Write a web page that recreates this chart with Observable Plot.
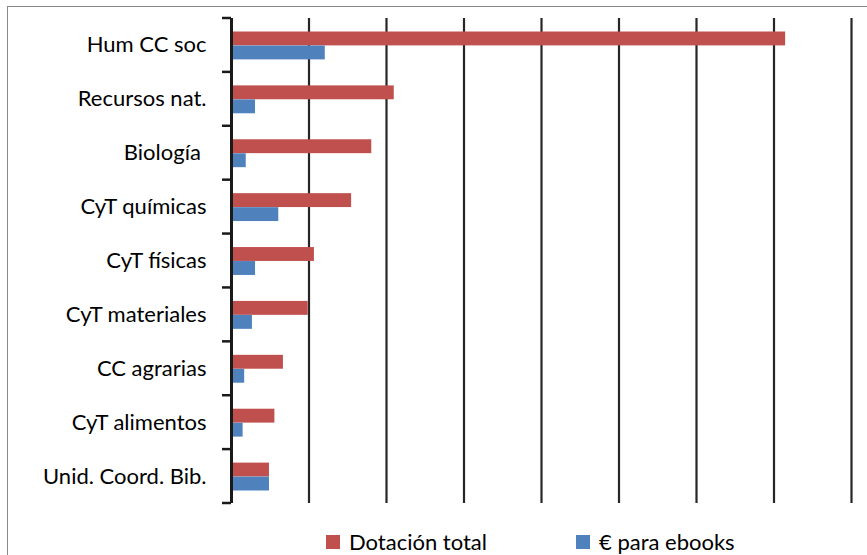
<!DOCTYPE html>
<html><head><meta charset="utf-8">
<script src="https://cdn.jsdelivr.net/npm/d3@7"></script>
<script src="https://cdn.jsdelivr.net/npm/@observablehq/plot@0.6"></script>
<style>
body{margin:0;background:#fff;font-family:Lato, sans-serif}
#wrap{position:relative;width:867px;height:555px;overflow:hidden;background:#fff}
#frame{position:absolute;left:7px;top:6px;width:900px;height:600px;border:1.5px solid #8a8a8a;box-sizing:border-box}
#chart{position:absolute;left:0;top:0}
.leg{position:absolute;top:531px;display:flex;align-items:center;font-size:22px;color:#000;line-height:22px;white-space:nowrap}
.leg span.sw{display:inline-block;width:14px;height:14px;margin-right:9px}
</style></head>
<body>
<div id="wrap">
  <div id="frame"></div>
  <div id="chart"></div>
  <div id="legend"></div>
</div>
<script>
const categories = ["Hum CC soc","Recursos nat.","Biología\u00a0","CyT químicas","CyT físicas","CyT materiales","CC agrarias","CyT alimentos","Unid. Coord. Bib."];
const seriesNames = ["Dotación total","€ para ebooks"];
const dotacion = [715, 210, 181, 155, 107, 99, 67, 56, 49];
const ebooks   = [121, 31, 19, 61, 31, 27, 17, 15, 49];
const gridTicks = [100, 200, 300, 400, 500, 600, 700, 800];
const colors = ["#C0504D", "#4F81BD"];

const dotRows = categories.map((c, i) => ({cat: c, series: seriesNames[0], value: dotacion[i]}));
const ebRows = categories.map((c, i) => ({cat: c, series: seriesNames[1], value: ebooks[i]}));

function boundaryTicks(index, scales, values, dims) {
  const y = scales.y;
  const step = y.step ? y.step() : y.bandwidth();
  const x0 = dims.marginLeft;
  const ys = categories.map(c => y(c)).concat([y(categories[categories.length - 1]) + step]);
  const g = d3.create("svg:g");
  g.selectAll("line").data(ys).join("line")
    .attr("x1", x0 - 9).attr("x2", x0)
    .attr("y1", d => d).attr("y2", d => d)
    .attr("stroke", "#1a1a1a").attr("stroke-width", 2.5);
  return g.node();
}

const chart = Plot.plot({
  width: 867, height: 520,
  marginLeft: 231, marginRight: 16, marginTop: 18, marginBottom: 17,
  x: {domain: [0, 800], axis: null},
  y: {domain: categories, padding: 0, round: false},
  color: {domain: seriesNames, range: colors},
  style: {fontFamily: "Lato, sans-serif", fontSize: "22px", color: "#000", background: "transparent"},
  marks: [
    Plot.ruleX(gridTicks, {stroke: "#262626", strokeWidth: 2.2}),
    Plot.barX(dotRows, {x: "value", y: "cat", fill: "series", insetTop: 13.5, insetBottom: 26.5}),
    Plot.barX(ebRows, {x: "value", y: "cat", fill: "series", insetTop: 27.5, insetBottom: 12.5}),
    Plot.ruleX([0], {stroke: "#1a1a1a", strokeWidth: 3}),
    boundaryTicks,
    Plot.axisY({tickSize: 0, tickPadding: 25, fontSize: 22, label: null, fill: "#000"})
  ]
});
document.getElementById("chart").appendChild(chart);

const legend = document.getElementById("legend");
const legPos = [326, 576];
seriesNames.forEach((s, i) => {
  const d = document.createElement("div");
  d.className = "leg";
  d.style.left = legPos[i] + "px";
  d.innerHTML = `<span class="sw" style="background:${colors[i]}"></span><span>${s}</span>`;
  legend.appendChild(d);
});
</script>
</body></html>
